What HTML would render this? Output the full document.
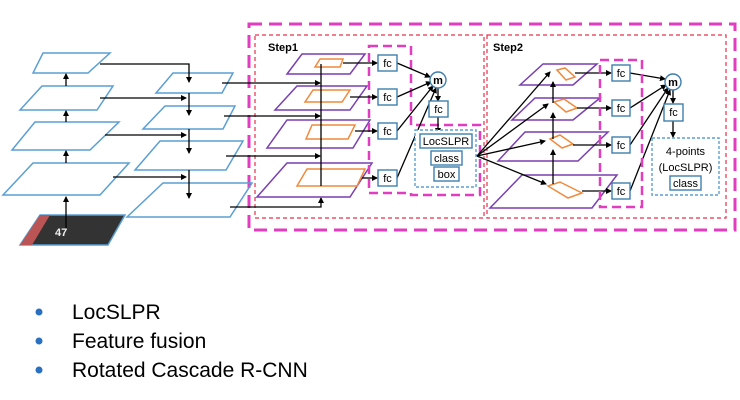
<!DOCTYPE html>
<html><head><meta charset="utf-8"><style>
html,body{margin:0;padding:0;background:#fff;}
svg{display:block;}
</style></head><body>
<svg width="740" height="400" viewBox="0 0 740 400" xmlns="http://www.w3.org/2000/svg" font-family="Liberation Sans, sans-serif">
<defs>
<marker id="a" markerWidth="6" markerHeight="6" refX="5" refY="3" orient="auto" markerUnits="userSpaceOnUse"><path d="M0,0 L6,3 L0,6 z" fill="#000"/></marker>
</defs>
<!-- outer boxes -->
<rect x="249" y="24" width="486" height="206" fill="none" stroke="#e23cc0" stroke-width="3" stroke-dasharray="13,7"/>
<rect x="255" y="35" width="229" height="183" fill="none" stroke="#e8304a" stroke-width="1.2" stroke-dasharray="4,3"/>
<rect x="487" y="35" width="239" height="183" fill="none" stroke="#e8304a" stroke-width="1.2" stroke-dasharray="4,3"/>
<text x="268" y="51" font-size="11" font-weight="bold">Step1</text>
<text x="493" y="51" font-size="11" font-weight="bold">Step2</text>
<!-- pyramid A -->
<g fill="none" stroke="#5a9fd4" stroke-width="1.5">
<polygon points="43,53 110,53 88,73 33,73"/>
<polygon points="42,86 113,86 97,110 20,110"/>
<polygon points="35,122 119,122 90,150 12,150"/>
<polygon points="33,163 129,163 100,195 3,195"/>
<polygon points="173,73 233,73 222,93 156,93"/>
<polygon points="165,106 235,106 223,129 143,129"/>
<polygon points="160,141 243,141 226,170 135,170"/>
<polygon points="163,183 252,183 230,217 127,217"/>
</g>
<polygon points="40,215 125,215 108,245 20,245" fill="#333" stroke="#5a9fd4" stroke-width="1.5"/>
<polygon points="40,215 50,215 32,245 20,245" fill="#b55"/>
<text x="55" y="236" font-size="11" fill="#eee" font-weight="bold">47</text>
<g stroke="#000" stroke-width="1.3" fill="none" marker-end="url(#a)">
<line x1="66" y1="228" x2="66" y2="197"/>
<line x1="66" y1="163" x2="66" y2="151"/>
<line x1="66" y1="122" x2="66" y2="111"/>
<line x1="66" y1="86" x2="66" y2="74"/>
<polyline points="100,64 189,64 189,82"/>
<line x1="100" y1="98" x2="186" y2="98"/>
<line x1="105" y1="135" x2="186" y2="135"/>
<line x1="113" y1="177" x2="186" y2="177"/>
<line x1="189" y1="93" x2="189" y2="115"/>
<line x1="189" y1="129" x2="189" y2="153"/>
<line x1="189" y1="170" x2="189" y2="198"/>
<line x1="222" y1="83" x2="320" y2="83"/>
<line x1="224" y1="116" x2="320" y2="116"/>
<line x1="226" y1="156" x2="320" y2="156"/>
<polyline points="230,207 321,207 321,198"/>
</g>
<!-- pyramid C -->
<g fill="none" stroke="#7a3fb0" stroke-width="1.5">
<polygon points="302,54 365,54 350,74 287,74"/>
<polygon points="297,86 367,86 350,110 275,110"/>
<polygon points="287,120 370,120 353,148 267,148"/>
<polygon points="287,163 372,163 350,197 257,197"/>
</g>
<g fill="none" stroke="#f08a3c" stroke-width="1.5">
<polygon points="320,59 343,59 340,67 315,67"/>
<polygon points="313,90 350,90 342,102 305,102"/>
<polygon points="312,125 355,125 348,139 306,139"/>
<polygon points="307,169 365,169 357,186 297,186"/>
</g>
<g stroke="#000" stroke-width="1.3" fill="none">
<line x1="321" y1="186" x2="321" y2="64"/>
</g>
<!-- step1 fc -->
<path d="M369,46 H411 V125 H480 V195 H411 V193 H369 Z" fill="none" stroke="#e23cc0" stroke-width="2.5" stroke-dasharray="9,5"/>
<g stroke="#000" stroke-width="1.3" fill="none" marker-end="url(#a)">
<line x1="343" y1="63" x2="377" y2="63"/>
<line x1="350" y1="97" x2="377" y2="97"/>
<line x1="355" y1="131" x2="377" y2="131"/>
<line x1="362" y1="178" x2="377" y2="178"/>
<line x1="397" y1="63" x2="430" y2="77"/>
<line x1="397" y1="97" x2="431" y2="82"/>
<line x1="397" y1="131" x2="433" y2="86"/>
<line x1="397" y1="178" x2="436" y2="88"/>
<line x1="438" y1="88" x2="438" y2="101"/>
<line x1="438" y1="117" x2="438" y2="133"/>
</g>
<g fill="#fff" stroke="#3d7fae" stroke-width="1.4" font-size="11" >
<rect x="378" y="55" width="19" height="16"/><rect x="378" y="89" width="19" height="16"/>
<rect x="378" y="123" width="19" height="16"/><rect x="378" y="170" width="19" height="16"/>
<rect x="429" y="101" width="19" height="16"/>
<circle cx="438" cy="80" r="8"/>
<rect x="415" y="130" width="61" height="57" stroke-dasharray="3,2" stroke="#5a9fd4"/>
<rect x="420" y="134" width="52" height="14"/><rect x="431" y="151" width="31" height="14"/><rect x="434" y="167" width="25" height="14"/>
</g>
<g font-size="11" text-anchor="middle" fill="#000">
<text x="387.5" y="67">fc</text><text x="387.5" y="101">fc</text><text x="387.5" y="135">fc</text><text x="387.5" y="182">fc</text>
<text x="438.5" y="113">fc</text><text x="438" y="84" font-weight="bold">m</text>
<text x="446" y="145">LocSLPR</text><text x="446.5" y="162">class</text><text x="446.5" y="178">box</text>
</g>
<!-- step2 pyramid -->
<g fill="none" stroke="#7a3fb0" stroke-width="1.5">
<polygon points="543,64 597,64 573,85 520,85"/>
<polygon points="535,98 600,98 573,120 512,120"/>
<polygon points="525,132 608,132 578,161 498,161"/>
<polygon points="522,175 617,175 592,208 490,208"/>
</g>
<g fill="none" stroke="#f08a3c" stroke-width="1.5">
<polygon points="557,70 565,68 575,77 566,80"/>
<polygon points="554,102 564,99 577,108 566,112"/>
<polygon points="550,139 560,135 573,144 562,148"/>
<polygon points="548,186 560,182 582,193 568,198"/>
</g>
<g stroke="#000" stroke-width="1.3" fill="none" marker-end="url(#a)">
<line x1="477" y1="156" x2="550" y2="72"/>
<line x1="477" y1="156" x2="548" y2="104"/>
<line x1="477" y1="156" x2="545" y2="141"/>
<line x1="477" y1="156" x2="546" y2="184"/>
<line x1="553" y1="184" x2="553" y2="150"/>
<line x1="553" y1="139" x2="553" y2="113"/>
<line x1="553" y1="103" x2="553" y2="82"/>
<line x1="575" y1="73" x2="611" y2="73"/>
<line x1="577" y1="108" x2="611" y2="108"/>
<line x1="573" y1="145" x2="611" y2="145"/>
<line x1="582" y1="191" x2="611" y2="191"/>
<line x1="630" y1="73" x2="665" y2="79"/>
<line x1="630" y1="108" x2="666" y2="85"/>
<line x1="630" y1="145" x2="668" y2="88"/>
<line x1="630" y1="191" x2="670" y2="90"/>
<line x1="673" y1="90" x2="673" y2="103"/>
<line x1="673" y1="121" x2="673" y2="137"/>
</g>
<rect x="600" y="60" width="42" height="147" fill="none" stroke="#e23cc0" stroke-width="2.5" stroke-dasharray="9,5"/>
<g fill="#fff" stroke="#3d7fae" stroke-width="1.4">
<rect x="612" y="65" width="18" height="16"/><rect x="612" y="100" width="18" height="16"/>
<rect x="612" y="137" width="18" height="16"/><rect x="612" y="183" width="18" height="16"/>
<rect x="664" y="104" width="19" height="17"/>
<circle cx="673" cy="82" r="8"/>
<rect x="652" y="138" width="67" height="57" stroke-dasharray="3,2" stroke="#5a9fd4"/>
<rect x="670" y="176" width="31" height="14"/>
</g>
<g font-size="11" text-anchor="middle" fill="#000">
<text x="621" y="77">fc</text><text x="621" y="112">fc</text><text x="621" y="149">fc</text><text x="621" y="195">fc</text>
<text x="673.5" y="116">fc</text><text x="673" y="86" font-weight="bold">m</text>
<text x="685.5" y="155">4-points</text><text x="685.5" y="171">(LocSLPR)</text><text x="685.5" y="187">class</text>
</g>
<!-- bullets -->
<g fill="#2a70c0"><circle cx="39" cy="312" r="3.5"/><circle cx="39" cy="341" r="3.5"/><circle cx="39" cy="370" r="3.5"/></g>
<g font-size="21" fill="#000">
<text x="72" y="319">LocSLPR</text>
<text x="72" y="348">Feature fusion</text>
<text x="72" y="377">Rotated Cascade R-CNN</text>
</g>
</svg>
</body></html>
